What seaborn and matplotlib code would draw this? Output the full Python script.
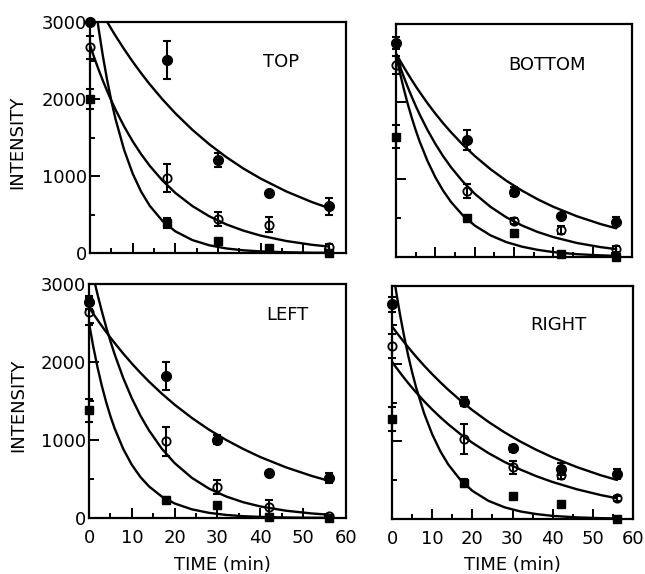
import matplotlib
matplotlib.use("Agg")
import matplotlib.pyplot as plt
import seaborn as sns
from matplotlib.ticker import MultipleLocator

sns.set_style("ticks")
plt.rcParams["font.family"] = ["DejaVu Sans"]
plt.rcParams["font.size"] = 13
plt.rcParams["text.color"] = "black"

# sampling times (min)
TIMES = [0, 18, 30, 42, 56]
# times at which the fitted curves were read
CURVE_T = [0, 1, 2, 3, 4, 5, 6, 8, 10, 12, 14, 17, 20, 24, 28, 32, 36, 40, 46, 52, 56]

# ---- TOP ----
TOP_FILLED = [3000, 2510, 1210, 780, 605]
TOP_FILLED_ERR = [0, 250, 90, 0, 110]
TOP_OPEN = [2670, 975, 440, 370, 80]
TOP_OPEN_ERR = [150, 180, 90, 100, 40]
TOP_SQUARE = [2000, 390, 150, 65, 0]
TOP_SQUARE_ERR = [130, 70, 20, 20, 0]
TOP_FIT_FILLED = [3407, 3301, 3199, 3100, 3004, 2911, 2820, 2648, 2486, 2335, 2192,
                  1995, 1815, 1600, 1411, 1244, 1096, 967, 800, 662, 584]
TOP_FIT_OPEN = [2700, 2538, 2385, 2242, 2107, 1980, 1861, 1644, 1452, 1283, 1133,
                941, 781, 610, 476, 371, 290, 226, 156, 107, 84]
TOP_FIT_SQUARE = [3790, 3328, 2922, 2566, 2253, 1978, 1737, 1340, 1033, 796, 614,
                  416, 282, 168, 100, 59, 35, 21, 10, 4, 3]

# ---- BOTTOM ----
BOT_FILLED = [2758, 1506, 841, 528, 455]
BOT_FILLED_ERR = [80, 130, 60, 0, 60]
BOT_OPEN = [2471, 854, 463, 348, 99]
BOT_OPEN_ERR = [120, 90, 40, 50, 40]
BOT_SQUARE = [1549, 498, 313, 39, 0]
BOT_SQUARE_ERR = [150, 30, 20, 0, 0]
BOT_FIT_FILLED = [2620, 2530, 2443, 2359, 2278, 2199, 2124, 1980, 1846, 1721, 1605,
                  1445, 1301, 1131, 983, 855, 743, 646, 524, 424, 369]
BOT_FIT_OPEN = [2600, 2453, 2315, 2185, 2062, 1946, 1836, 1635, 1456, 1296, 1154,
                970, 815, 646, 512, 406, 322, 256, 180, 127, 101]
BOT_FIT_SQUARE = [2600, 2369, 2159, 1967, 1792, 1633, 1488, 1236, 1026, 852, 707,
                  535, 405, 279, 192, 133, 92, 63, 36, 21, 14]

# ---- LEFT ----
LEFT_FILLED = [2765, 1822, 1003, 576, 512]
LEFT_FILLED_ERR = [80, 180, 60, 0, 60]
LEFT_OPEN = [2645, 981, 393, 141, 21]
LEFT_OPEN_ERR = [170, 190, 90, 90, 20]
LEFT_SQUARE = [1378, 235, 171, 13, 0]
LEFT_SQUARE_ERR = [150, 40, 20, 0, 0]
LEFT_FIT_FILLED = [2700, 2618, 2538, 2460, 2385, 2312, 2242, 2107, 1980, 1861, 1749,
                   1594, 1452, 1283, 1133, 1001, 885, 781, 649, 539, 476]
LEFT_FIT_OPEN = [3346, 3095, 2863, 2648, 2449, 2266, 2096, 1793, 1534, 1312, 1123,
                 888, 703, 515, 377, 276, 202, 148, 93, 58, 42]
LEFT_FIT_SQUARE = [2500, 2195, 1928, 1693, 1486, 1305, 1146, 884, 681, 525, 405,
                   274, 186, 111, 66, 39, 23, 14, 6, 3, 2]

# ---- RIGHT ----
RIGHT_FILLED = [2763, 1510, 909, 644, 579]
RIGHT_FILLED_ERR = [100, 60, 40, 80, 60]
RIGHT_OPEN = [2227, 1030, 665, 566, 266]
RIGHT_OPEN_ERR = [150, 190, 80, 50, 30]
RIGHT_SQUARE = [1287, 459, 296, 193, 0]
RIGHT_SQUARE_ERR = [150, 50, 30, 30, 0]
RIGHT_FIT_FILLED = [2480, 2410, 2343, 2277, 2213, 2151, 2090, 1974, 1865, 1762, 1664,
                    1528, 1402, 1251, 1116, 996, 889, 793, 669, 563, 503]
RIGHT_FIT_OPEN = [2025, 1953, 1884, 1817, 1752, 1690, 1630, 1516, 1410, 1312, 1220,
                  1094, 982, 849, 735, 636, 550, 476, 383, 308, 267]
RIGHT_FIT_SQUARE = [3276, 2935, 2629, 2355, 2110, 1890, 1693, 1359, 1091, 875, 702,
                    505, 363, 234, 151, 97, 63, 40, 21, 11, 7]

MARKERS = {
    "filled": dict(marker="o", ms=7, mfc="black", mec="black"),
    "open":   dict(marker="o", ms=6, mfc="none", mec="black", mew=1.3),
    "square": dict(marker="s", ms=6, mfc="black", mec="black"),
}

panels = [
    ("TOP", [0.1395, 0.5592, 0.3969, 0.4024], 40.5, 2480,
     [("filled", TOP_FILLED, TOP_FILLED_ERR, TOP_FIT_FILLED),
      ("open", TOP_OPEN, TOP_OPEN_ERR, TOP_FIT_OPEN),
      ("square", TOP_SQUARE, TOP_SQUARE_ERR, TOP_FIT_SQUARE)]),
    ("BOTTOM", [0.6140, 0.5523, 0.3659, 0.4059], 28.6, 2470,
     [("filled", BOT_FILLED, BOT_FILLED_ERR, BOT_FIT_FILLED),
      ("open", BOT_OPEN, BOT_OPEN_ERR, BOT_FIT_OPEN),
      ("square", BOT_SQUARE, BOT_SQUARE_ERR, BOT_FIT_SQUARE)]),
    ("LEFT", [0.1380, 0.0976, 0.3984, 0.4077], 41.5, 2600,
     [("filled", LEFT_FILLED, LEFT_FILLED_ERR, LEFT_FIT_FILLED),
      ("open", LEFT_OPEN, LEFT_OPEN_ERR, LEFT_FIT_OPEN),
      ("square", LEFT_SQUARE, LEFT_SQUARE_ERR, LEFT_FIT_SQUARE)]),
    ("RIGHT", [0.6078, 0.0958, 0.3736, 0.4059], 34.3, 2500,
     [("filled", RIGHT_FILLED, RIGHT_FILLED_ERR, RIGHT_FIT_FILLED),
      ("open", RIGHT_OPEN, RIGHT_OPEN_ERR, RIGHT_FIT_OPEN),
      ("square", RIGHT_SQUARE, RIGHT_SQUARE_ERR, RIGHT_FIT_SQUARE)]),
]

fig = plt.figure(figsize=(6.45, 5.74), dpi=100)

for i, (name, pos, lx, ly, series) in enumerate(panels):
    ax = fig.add_axes(pos)
    for kind, vals, errs, fit in series:
        sns.lineplot(x=CURVE_T, y=fit, ax=ax, color="black", linewidth=1.7, legend=False)
        et = [t for t, e in zip(TIMES, errs) if e > 0]
        ev = [v for v, e in zip(vals, errs) if e > 0]
        ee = [e for e in errs if e > 0]
        if ee:
            cont = ax.errorbar(et, ev, yerr=ee, fmt="none", ecolor="black",
                               elinewidth=1.5, capsize=3, capthick=1.5, zorder=3)
            for art in list(cont.lines[1]) + list(cont.lines[2]):
                art.set_clip_on(False)
        ax.plot(TIMES, vals, linestyle="none", clip_on=False, zorder=4, **MARKERS[kind])

    ax.set_xlim(0, 60)
    ax.set_ylim(0, 3000)
    ax.xaxis.set_major_locator(MultipleLocator(10))
    ax.xaxis.set_minor_locator(MultipleLocator(5))
    ax.yaxis.set_major_locator(MultipleLocator(1000))
    ax.yaxis.set_minor_locator(MultipleLocator(500))
    ax.tick_params(which="both", direction="in", bottom=True, left=True,
                   top=False, right=False, width=1.4, color="black",
                   labelsize=13, labelcolor="black")
    ax.tick_params(which="major", length=7)
    ax.tick_params(which="minor", length=3.5)
    ax.tick_params(axis="x", pad=8)
    ax.tick_params(axis="y", pad=2)
    for sp in ax.spines.values():
        sp.set_visible(True)
        sp.set_linewidth(1.6)
        sp.set_color("black")
    ax.set_xlabel("")
    ax.set_ylabel("")
    if i < 2:
        ax.tick_params(axis="x", labelbottom=False)
    if i % 2 == 1:
        ax.tick_params(axis="y", labelleft=False)
    ax.text(lx, ly, name, ha="left", va="center", fontsize=13, color="black")

fig.text(17 / 645, 1 - 142 / 574, "INTENSITY", rotation=90, ha="center", va="center",
         fontsize=13, color="black")
fig.text(18 / 645, 1 - 405 / 574, "INTENSITY", rotation=90, ha="center", va="center",
         fontsize=13, color="black")
fig.text(222 / 645, 1 - 570 / 574, "TIME (min)", ha="center", va="baseline",
         fontsize=13, color="black")
fig.text(512 / 645, 1 - 570 / 574, "TIME (min)", ha="center", va="baseline",
         fontsize=13, color="black")

fig.savefig("out.png", dpi=100, facecolor="white")
